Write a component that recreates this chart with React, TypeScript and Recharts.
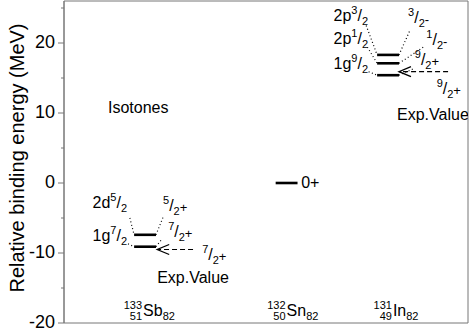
import React from 'react';
import { ComposedChart, Line, Scatter, XAxis, YAxis, ReferenceArea } from 'recharts';

// nuclei along the x axis
const symbols = ['Sb', 'Sn', 'In'];
const massNumbers = ['133', '132', '131'];
const protonNumbers = ['51', '50', '49'];
const neutronNumbers = ['82', '82', '82'];
const nucleusX = [1, 2.165, 3];

// calculated single-particle levels (MeV), per nucleus
const sbLevels = [-7.4, -9.1];
const snLevels = [0];
const inLevels = [18.3, 17.1, 15.4];
// experimental values
const sbExp = -9.5;
const inExp = 15.9;

// level labels: [orbital, 2j, parity]
const sbOrbitals = [['2d', '5', '+'], ['1g', '7', '+']];
const inOrbitals = [['2p', '3', '-'], ['2p', '1', '-'], ['1g', '9', '+']];

const majorTicks = [-20, -10, 0, 10, 20];
const minorTicks = [-15, -5, 5, 15, 25];

const FONT = '"Liberation Sans", Arial, Helvetica, sans-serif';
const X_DOMAIN = [0.333, 3.658];
const Y_DOMAIN = [-20, 26];

type Seg = { x: number; y: number }[];

const seg = (x1: number, y1: number, x2: number, y2: number): Seg => [
  { x: x1, y: y1 },
  { x: x2, y: y2 },
];

const sb = nucleusX[0];
const sn = nucleusX[1];
const inn = nucleusX[2];
const hw = 0.09;

const levelSegs: Seg[] = [
  ...sbLevels.map((v) => seg(sb - hw, v, sb + hw, v)),
  ...snLevels.map((v) => seg(sn - hw, v, sn + hw, v)),
  ...inLevels.map((v) => seg(inn - hw, v, inn + hw, v)),
];

// dotted connectors from labels to level ends
const dotSegs: Seg[] = [
  seg(sb - 0.125, -5.0, sb - hw, sbLevels[0]),
  seg(sb - 0.14, -8.7, sb - hw, sbLevels[1]),
  seg(sb + hw, sbLevels[0], sb + 0.148, -4.9),
  seg(sb + hw, sbLevels[1], sb + 0.14, -8.0),
  seg(inn - 0.18, 22.5, inn - hw, inLevels[0]),
  seg(inn - 0.17, 19.4, inn - hw, inLevels[1]),
  seg(inn - 0.16, 15.9, inn - hw, inLevels[2]),
  seg(inn + hw, inLevels[0], inn + 0.18, 21.8),
  seg(inn + hw, inLevels[1], inn + 0.29, 19.4),
  seg(inn + hw, inLevels[2], inn + 0.22, 16.4),
];

// dashed arrows, second point is the tip
const arrowSegs: Seg[] = [
  seg(sb + 0.395, sbExp, sb + 0.1, sbExp),
  seg(inn + 0.494, inExp, inn + 0.09, inExp),
];

type Label = {
  x: number;
  y: number;
  kind: 'orb' | 'spin' | 'plain' | 'nuc';
  a?: string;
  b?: string;
  c?: string;
  i?: number;
};

const labels: Label[] = [
  { x: sb - 0.148, y: -3.6, kind: 'orb', a: sbOrbitals[0][0], b: sbOrbitals[0][1] },
  { x: sb - 0.148, y: -8.3, kind: 'orb', a: sbOrbitals[1][0], b: sbOrbitals[1][1] },
  { x: sb + 0.148, y: -4.0, kind: 'spin', b: sbOrbitals[0][1], c: sbOrbitals[0][2] },
  { x: sb + 0.19, y: -7.7, kind: 'spin', b: sbOrbitals[1][1], c: sbOrbitals[1][2] },
  { x: sb + 0.47, y: -11.0, kind: 'spin', b: '7', c: '+' },
  { x: sb + 0.1, y: -14.3, kind: 'plain', a: 'Exp.Value' },
  { x: sn + 0.12, y: -0.7, kind: 'plain', a: '0+' },
  { x: inn - 0.165, y: 23.1, kind: 'orb', a: inOrbitals[0][0], b: inOrbitals[0][1] },
  { x: inn - 0.165, y: 19.9, kind: 'orb', a: inOrbitals[1][0], b: inOrbitals[1][1] },
  { x: inn - 0.165, y: 16.3, kind: 'orb', a: inOrbitals[2][0], b: inOrbitals[2][1] },
  { x: inn + 0.165, y: 22.9, kind: 'spin', b: inOrbitals[0][1], c: inOrbitals[0][2] },
  { x: inn + 0.315, y: 19.7, kind: 'spin', b: inOrbitals[1][1], c: inOrbitals[1][2] },
  { x: inn + 0.22, y: 16.9, kind: 'spin', b: inOrbitals[2][1], c: inOrbitals[2][2] },
  { x: inn + 0.4, y: 12.7, kind: 'spin', b: '9', c: '+' },
  { x: inn + 0.074, y: 9.0, kind: 'plain', a: 'Exp.Value' },
  { x: 0.695, y: 10, kind: 'plain', a: 'Isotones' },
  { x: sb - 0.016, y: -19.0, kind: 'nuc', i: 0 },
  { x: sn, y: -19.0, kind: 'nuc', i: 1 },
  { x: inn + 0.04, y: -19.0, kind: 'nuc', i: 2 },
];

function LabelShape(props: any) {
  const { cx, cy, payload } = props;
  const p: Label = payload;
  if (p.kind === 'plain') {
    return (
      <text x={cx} y={cy} fontSize={16} fontFamily={FONT} fill="#000">
        {p.a}
      </text>
    );
  }
  if (p.kind === 'nuc') {
    const i = p.i as number;
    return (
      <g fontFamily={FONT} fill="#000">
        <text x={cx - 1} y={cy - 7} fontSize={11} textAnchor="end">
          {massNumbers[i]}
        </text>
        <text x={cx - 1} y={cy + 4} fontSize={11} textAnchor="end">
          {protonNumbers[i]}
        </text>
        <text x={cx} y={cy} fontSize={16}>
          {symbols[i]}
          <tspan dy={4} fontSize={11}>
            {neutronNumbers[i]}
          </tspan>
        </text>
      </g>
    );
  }
  const anchor = p.kind === 'orb' ? 'end' : 'start';
  return (
    <text x={cx} y={cy} fontSize={16} fontFamily={FONT} fill="#000" textAnchor={anchor}>
      {p.kind === 'orb' ? p.a : null}
      <tspan dy={-7} fontSize={11}>
        {p.b}
      </tspan>
      <tspan dy={7}>/</tspan>
      <tspan dy={4} fontSize={11}>
        2
      </tspan>
      {p.kind === 'spin' ? (
        <tspan dy={-3} fontSize={13}>
          {p.c}
        </tspan>
      ) : null}
    </text>
  );
}

function ArrowHead(props: any) {
  const { cx, cy, index } = props;
  if (index !== 1) return <g key={index} />;
  return (
    <path
      key={index}
      d={`M ${cx + 12} ${cy - 5} L ${cx} ${cy} L ${cx + 12} ${cy + 5}`}
      fill="none"
      stroke="#000"
      strokeWidth={1.3}
    />
  );
}

function YTick(props: any) {
  const { x, y, payload } = props;
  const major = majorTicks.includes(payload.value);
  return (
    <g>
      <line x1={x - (major ? 6 : 3)} y1={y} x2={x} y2={y} stroke="#777" />
      {major ? (
        <text x={x - 9} y={y + 5} textAnchor="end" fontSize={18} fontFamily={FONT} fill="#000">
          {payload.value}
        </text>
      ) : null}
    </g>
  );
}

export default function App() {
  return (
    <div style={{ position: 'absolute', left: 0, top: 0 }}>
      <ComposedChart width={471} height={331} margin={{ top: 1, right: 3, bottom: 8, left: 0 }}>
        <XAxis type="number" dataKey="x" domain={X_DOMAIN} hide allowDataOverflow />
        <YAxis
          type="number"
          dataKey="y"
          domain={Y_DOMAIN}
          ticks={[...majorTicks, ...minorTicks].sort((a, b) => a - b)}
          interval={0}
          width={64}
          tickSize={0}
          tickMargin={0}
          tickLine={false}
          tick={<YTick />}
          axisLine={{ stroke: '#777' }}
          allowDataOverflow
          label={{
            value: 'Relative binding energy (MeV)',
            angle: -90,
            position: 'insideLeft',
            offset: 0,
            dx: 17,
            dy: -4,
            style: { fontSize: 20, fontFamily: FONT, fill: '#000', textAnchor: 'middle' },
          }}
        />
        <ReferenceArea
          x1={X_DOMAIN[0]}
          x2={X_DOMAIN[1]}
          y1={Y_DOMAIN[0]}
          y2={Y_DOMAIN[1]}
          fill="none"
          stroke="#777"
          strokeWidth={1}
        />
        {levelSegs.map((d, k) => (
          <Line
            key={'lv' + k}
            data={d}
            dataKey="y"
            stroke="#000"
            strokeWidth={2.6}
            dot={false}
            isAnimationActive={false}
          />
        ))}
        {dotSegs.map((d, k) => (
          <Line
            key={'dt' + k}
            data={d}
            dataKey="y"
            stroke="#000"
            strokeWidth={1.2}
            strokeDasharray="1 2.5"
            dot={false}
            isAnimationActive={false}
          />
        ))}
        {arrowSegs.map((d, k) => (
          <Line
            key={'ar' + k}
            data={d}
            dataKey="y"
            stroke="#000"
            strokeWidth={1.2}
            strokeDasharray="5 3"
            dot={<ArrowHead />}
            isAnimationActive={false}
          />
        ))}
        <Scatter data={labels} dataKey="y" shape={<LabelShape />} isAnimationActive={false} />
      </ComposedChart>
    </div>
  );
}
